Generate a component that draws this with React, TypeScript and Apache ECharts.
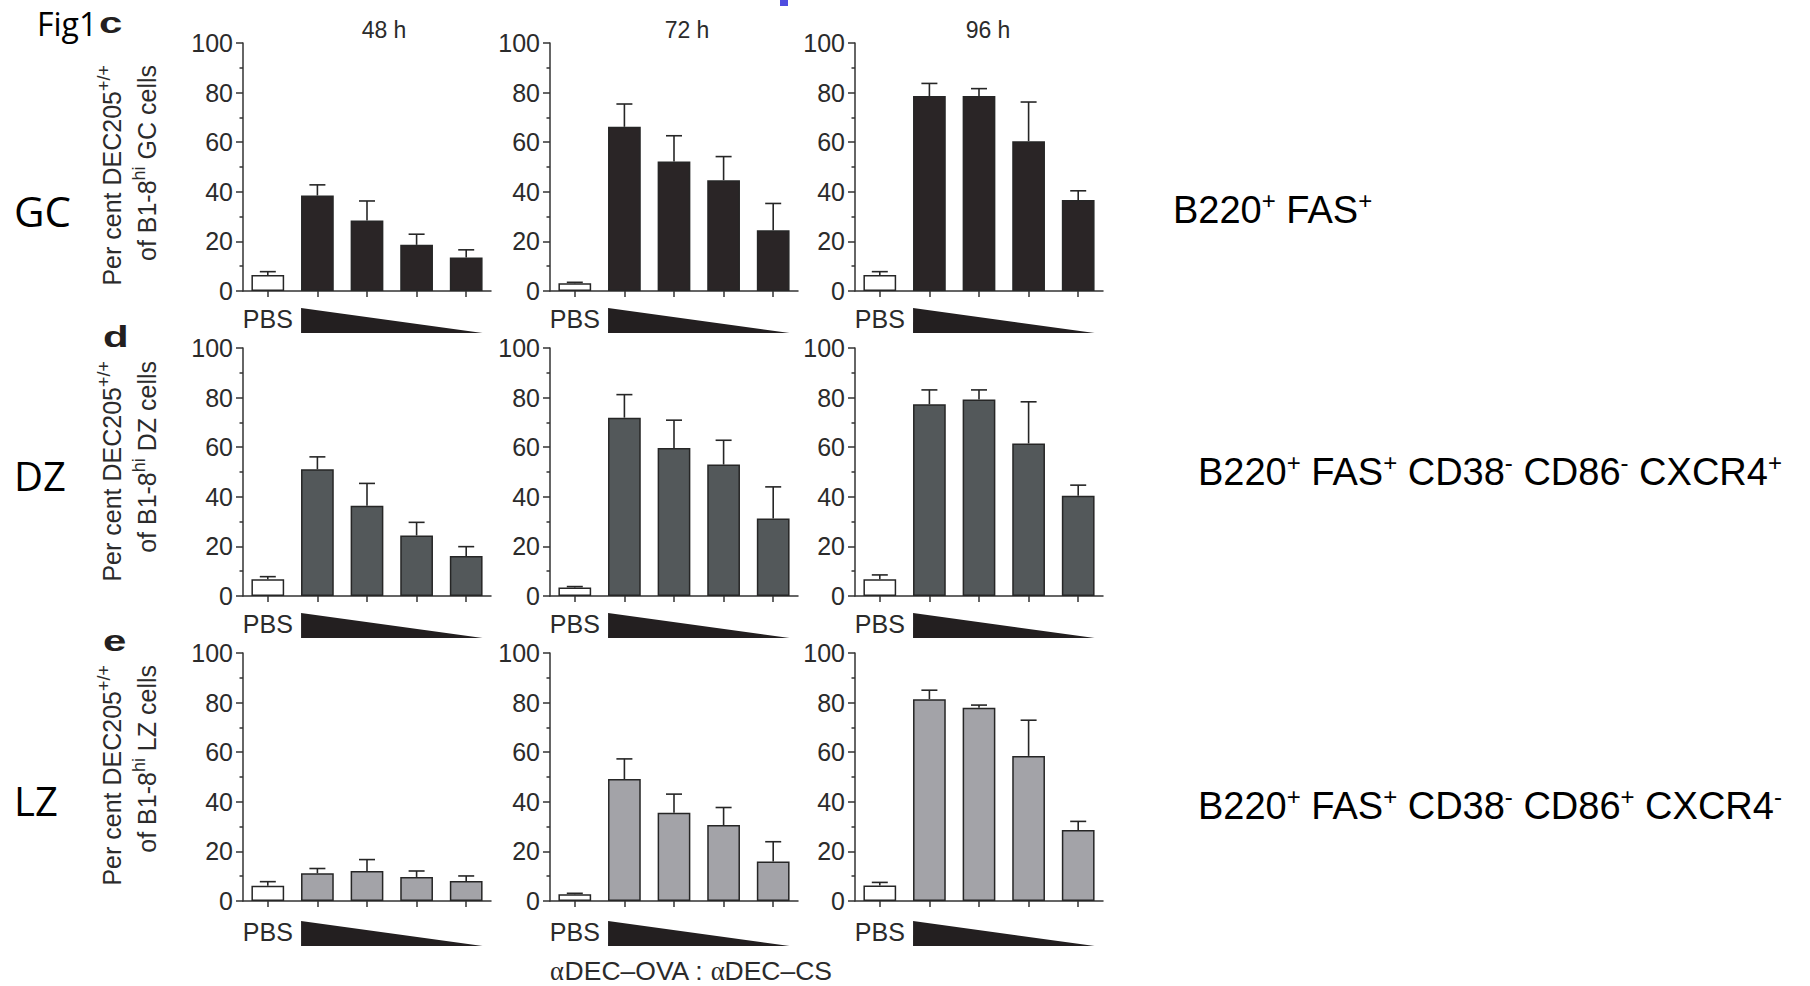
import React, { useEffect, useRef } from 'react';
import * as echarts from 'echarts';

// ---------- data ----------
const timepoints = ['48 h', '72 h', '96 h'];
const populations = ['GC', 'DZ', 'LZ'];
const cellLabels = ['GC cells', 'DZ cells', 'LZ cells'];
const doses = ['PBS', 'dose1', 'dose2', 'dose3', 'dose4'];
const yTickStep = 20;

// GC (B220+ FAS+)
const gc48Mean = [6.5, 38.5, 28.4, 18.6, 13.5];
const gc48Sem = [1.3, 4.3, 7.9, 4.3, 3.1];
const gc72Mean = [3.1, 66.2, 52.2, 44.7, 24.5];
const gc72Sem = [0.4, 9.2, 10.4, 9.5, 10.8];
const gc96Mean = [6.5, 78.6, 78.6, 60.4, 36.7];
const gc96Sem = [1.3, 5.1, 3.0, 15.8, 3.7];
// DZ
const dz48Mean = [6.8, 51.1, 36.4, 24.4, 16.1];
const dz48Sem = [1.0, 5.0, 9.0, 5.3, 3.8];
const dz72Mean = [3.4, 71.9, 59.7, 53.0, 31.3];
const dz72Sem = [0.4, 9.3, 11.2, 9.8, 12.7];
const dz96Mean = [6.8, 77.3, 79.2, 61.5, 40.4];
const dz96Sem = [1.7, 5.8, 3.9, 16.8, 4.3];
// LZ
const lz48Mean = [6.1, 11.2, 12.1, 9.7, 8.1];
const lz48Sem = [1.7, 1.9, 4.6, 2.4, 2.0];
const lz72Mean = [2.7, 49.2, 35.6, 30.6, 15.9];
const lz72Sem = [0.4, 8.1, 7.5, 7.1, 8.0];
const lz96Mean = [6.3, 81.4, 77.9, 58.5, 28.6];
const lz96Sem = [1.2, 3.6, 1.1, 14.4, 3.5];

const panels = [
  [gc48Mean, gc48Sem], [gc72Mean, gc72Sem], [gc96Mean, gc96Sem],
  [dz48Mean, dz48Sem], [dz72Mean, dz72Sem], [dz96Mean, dz96Sem],
  [lz48Mean, lz48Sem], [lz72Mean, lz72Sem], [lz96Mean, lz96Sem],
];

// ---------- layout / style ----------
const GRID_LEFT = [243, 550, 855];
const GRID_TOP = [43, 348, 653];
const GRID_W = 248;
const GRID_H = 248;
const ROW_SHIFT = [0, 0, 3];
const ROW_FILL = ['#2a2526', '#53585a', '#a3a3a8'];
const AXIS = '#333333';
const SANS = 'Liberation Sans, Arial, Helvetica, sans-serif';
const CAL = 'Open Sans, Noto Sans, sans-serif';
const SERIF = 'Liberation Serif, serif';

const supRich = (main: number, sup: number, lh: number, color: string) => ({
  n: { fontSize: main, fontFamily: SANS, fill: color, lineHeight: lh },
  s: { fontSize: sup, fontFamily: SANS, fill: color, lineHeight: sup, verticalAlign: 'top' },
  g: { fontSize: main, fontFamily: SERIF, fill: color, lineHeight: lh },
});

export default function App() {
  const ref = useRef<HTMLDivElement>(null);
  useEffect(() => {
    document.body.style.margin = '0';
    const chart = echarts.init(ref.current!, undefined, { renderer: 'svg' });

    const grids: any[] = [];
    const xAxes: any[] = [];
    const yAxes: any[] = [];
    const series: any[] = [];

    panels.forEach(([mean, sem], k) => {
      const row = Math.floor(k / 3);
      const col = k % 3;
      const shift = ROW_SHIFT[row];
      grids.push({ left: GRID_LEFT[col], top: GRID_TOP[row], width: GRID_W, height: GRID_H });
      xAxes.push({
        type: 'category', gridIndex: k, data: doses, boundaryGap: true,
        axisLine: { show: true, lineStyle: { color: AXIS, width: 1.5 } },
        axisTick: { show: true, alignWithLabel: true, length: 6, lineStyle: { color: AXIS, width: 1.5 } },
        axisLabel: {
          interval: 0, margin: 15 + shift, fontSize: 25, color: '#2b2b2b', fontFamily: SANS,
          formatter: (v: string) => (v === 'PBS' ? 'PBS' : ''),
        },
        splitLine: { show: false },
      });
      yAxes.push({
        type: 'value', gridIndex: k, min: 0, max: 100, interval: yTickStep,
        axisLine: { show: true, lineStyle: { color: AXIS, width: 1.5 } },
        axisTick: { show: true, length: 7, lineStyle: { color: AXIS, width: 1.5 } },
        minorTick: { show: true, splitNumber: 2, length: 3.5, lineStyle: { color: AXIS, width: 1.5 } },
        splitLine: { show: false },
        axisLabel: { fontSize: 25, color: '#2b2b2b', margin: 10, fontFamily: SANS },
      });
      series.push({
        type: 'bar', xAxisIndex: k, yAxisIndex: k, barWidth: '66%', silent: true,
        itemStyle: { color: ROW_FILL[row], borderColor: '#262626', borderWidth: 1.5 },
        data: (mean as number[]).map((v, j) => (j === 0 ? { value: v, itemStyle: { color: '#ffffff' } } : v)),
      });
      series.push({
        type: 'custom', xAxisIndex: k, yAxisIndex: k, silent: true, z: 5,
        encode: { x: 0, y: [1, 2] },
        data: (mean as number[]).map((v, j) => [j, v, v + (sem as number[])[j]]),
        renderItem: (_p: any, api: any) => {
          const x = api.value(0);
          const b = api.coord([x, api.value(1)]);
          const t = api.coord([x, api.value(2)]);
          const half = 8;
          const st = { stroke: '#262626', lineWidth: 1.6 };
          return {
            type: 'group',
            children: [
              { type: 'line', shape: { x1: b[0], y1: b[1], x2: t[0], y2: t[1] }, style: st },
              { type: 'line', shape: { x1: t[0] - half, y1: t[1], x2: t[0] + half, y2: t[1] }, style: st },
            ],
          };
        },
      });
      series.push({
        type: 'custom', xAxisIndex: k, yAxisIndex: k, silent: true,
        encode: { x: 0, y: 1 },
        data: [[0, 0]],
        renderItem: (_p: any, api: any) => {
          const c1 = api.coord([1, 0]);
          const c4 = api.coord([4, 0]);
          const bw = api.size([1, 0])[0];
          const l = c1[0] - bw * 0.33;
          const r = c4[0] + bw * 0.33;
          const y0 = c1[1];
          return {
            type: 'polygon',
            shape: { points: [[l, y0 + 17 + shift], [l, y0 + 42 + shift], [r, y0 + 42 + shift]] },
            style: { fill: '#231f20' },
          };
        },
      });
    });

    const graphic: any[] = [];
    // blue mark at the top
    graphic.push({ type: 'rect', shape: { x: 780, y: 0, width: 8, height: 6 }, style: { fill: '#4f4de0' } });
    // Fig1 + panel letters
    graphic.push({ type: 'text', x: 37, y: 23, style: { text: 'Fig1', font: `32px ${CAL}`, fill: '#000', textVerticalAlign: 'middle' } });
    const letters = [
      { t: 'c', x: 99, y: 22.5 },
      { t: 'd', x: 103, y: 336.5 },
      { t: 'e', x: 103, y: 641 },
    ];
    letters.forEach((L) => {
      graphic.push({ type: 'text', x: L.x, y: L.y, scaleX: 1.4, style: { text: L.t, font: `bold 30px ${SANS}`, fill: '#231f20', textVerticalAlign: 'middle' } });
    });
    // timepoint titles
    const titleX = [384, 687, 988];
    timepoints.forEach((t, i) => {
      graphic.push({ type: 'text', x: titleX[i], y: 30, style: { text: t, font: `23px ${SANS}`, fill: '#2b2b2b', textAlign: 'center', textVerticalAlign: 'middle' } });
    });
    // population labels
    const popY = [210, 475, 800];
    const popSize = [42, 40, 40];
    populations.forEach((p, i) => {
      graphic.push({ type: 'text', x: 14, y: popY[i], style: { text: p, font: `${popSize[i]}px ${CAL}`, fill: '#000', textVerticalAlign: 'middle' } });
    });
    // rotated y-axis titles
    const yLabEnd = [65, 361, 665];
    cellLabels.forEach((c, i) => {
      graphic.push({
        type: 'text', x: 129.5, y: yLabEnd[i], rotation: Math.PI / 2,
        style: {
          text: `{n|Per cent DEC205}{s|+/+}\n{n|of B1-8}{s|hi}{n| ${c}}`,
          rich: supRich(25, 18, 35, '#2b2b2b'),
          textAlign: 'right', textVerticalAlign: 'middle',
        },
      });
    });
    // gating labels
    graphic.push({
      type: 'text', x: 1173, y: 210,
      style: { text: '{n|B220}{s|+}{n| FAS}{s|+}', rich: supRich(38, 24, 44, '#000'), textVerticalAlign: 'middle' },
    });
    graphic.push({
      type: 'text', x: 1198, y: 472,
      style: { text: '{n|B220}{s|+}{n| FAS}{s|+}{n| CD38}{s|-}{n| CD86}{s|-}{n| CXCR4}{s|+}', rich: supRich(38, 24, 44, '#000'), textVerticalAlign: 'middle' },
    });
    graphic.push({
      type: 'text', x: 1198, y: 806,
      style: { text: '{n|B220}{s|+}{n| FAS}{s|+}{n| CD38}{s|-}{n| CD86}{s|+}{n| CXCR4}{s|-}', rich: supRich(38, 24, 44, '#000'), textVerticalAlign: 'middle' },
    });
    // x label
    graphic.push({
      type: 'text', x: 691, y: 971,
      style: { text: '{g|α}{n|DEC–OVA : }{g|α}{n|DEC–CS}', rich: supRich(26.5, 16, 26, '#2b2b2b'), textAlign: 'center', textVerticalAlign: 'middle' },
    });

    chart.setOption({
      animation: false,
      backgroundColor: '#ffffff',
      textStyle: { fontFamily: SANS },
      grid: grids,
      xAxis: xAxes,
      yAxis: yAxes,
      series,
      graphic,
    });
    return () => chart.dispose();
  }, []);

  return <div ref={ref} style={{ position: 'absolute', left: 0, top: 0, width: 1810, height: 986 }} />;
}
